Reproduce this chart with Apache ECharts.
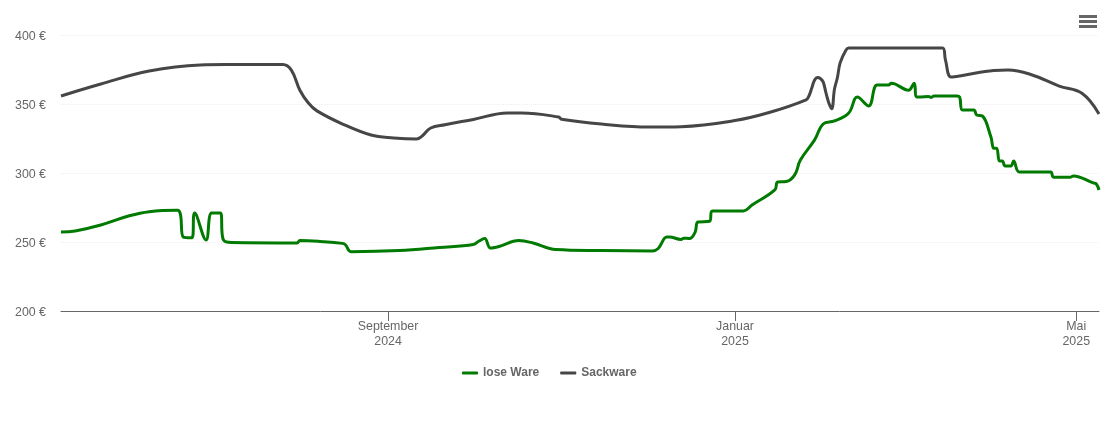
<!DOCTYPE html>
<html>
<head>
<meta charset="utf-8">
<title>Preisentwicklung</title>
<script src="https://cdn.jsdelivr.net/npm/echarts@6/dist/echarts.min.js"></script>
<style>
html, body { margin: 0; padding: 0; background: #fff; }
#mychart { width: 1110px; height: 422px; }
</style>
</head>
<body>
<div id="mychart"></div>
<script>
"use strict";
const loseDates = ['2024-05-09', '2024-05-14', '2024-05-23', '2024-06-02', '2024-06-09', '2024-06-19', '2024-06-20', '2024-06-21', '2024-06-24', '2024-06-25', '2024-06-29', '2024-07-01', '2024-07-04', '2024-07-05', '2024-07-08', '2024-07-31', '2024-08-01', '2024-08-08', '2024-08-16', '2024-08-17', '2024-08-19', '2024-09-05', '2024-09-19', '2024-10-01', '2024-10-03', '2024-10-05', '2024-10-07', '2024-10-10', '2024-10-17', '2024-10-22', '2024-10-30', '2024-11-15', '2024-12-03', '2024-12-05', '2024-12-08', '2024-12-09', '2024-12-13', '2024-12-14', '2024-12-16', '2024-12-18', '2024-12-19', '2024-12-23', '2024-12-24', '2025-01-04', '2025-01-07', '2025-01-15', '2025-01-16', '2025-01-19', '2025-01-22', '2025-01-24', '2025-01-29', '2025-02-01', '2025-02-05', '2025-02-10', '2025-02-13', '2025-02-17', '2025-02-20', '2025-02-24', '2025-02-25', '2025-03-03', '2025-03-05', '2025-03-06', '2025-03-10', '2025-03-11', '2025-03-12', '2025-03-20', '2025-03-21', '2025-03-22', '2025-03-26', '2025-03-27', '2025-03-29', '2025-04-01', '2025-04-02', '2025-04-03', '2025-04-04', '2025-04-05', '2025-04-06', '2025-04-08', '2025-04-09', '2025-04-11', '2025-04-22', '2025-04-23', '2025-04-29', '2025-04-30', '2025-05-07', '2025-05-08', '2025-05-09'];
const loseValues = [257.2, 258, 262.3, 269, 272, 273, 270, 253.6, 253, 271, 251.5, 271, 271, 252, 249.6, 249.3, 251, 250.4, 249, 248, 243, 243.8, 246, 248.2, 250.7, 252.5, 245.6, 246.7, 251, 249.3, 244.6, 243.8, 243.5, 245.3, 253.6, 253.6, 251.8, 252.8, 252.5, 257.2, 264.5, 265, 272.5, 272.5, 276.8, 287.7, 293.5, 293.8, 298.6, 309.4, 324, 335.5, 337.7, 343.5, 355, 348.6, 363.8, 363.8, 365, 360, 365, 355, 355.4, 354.8, 355.8, 355.8, 355, 345.6, 345.6, 342, 341.3, 326, 318, 318, 308.7, 308.7, 305, 305, 308.7, 300.7, 300.7, 297, 297, 297.8, 292.8, 292.2, 287.7];
const sackDates = ['2024-05-09', '2024-05-23', '2024-06-09', '2024-06-27', '2024-07-06', '2024-07-26', '2024-07-29', '2024-08-01', '2024-08-04', '2024-08-07', '2024-08-16', '2024-08-26', '2024-09-03', '2024-09-11', '2024-09-13', '2024-09-16', '2024-09-21', '2024-10-01', '2024-10-13', '2024-10-18', '2024-10-31', '2024-11-01', '2024-11-15', '2024-12-02', '2024-12-13', '2025-01-01', '2025-01-13', '2025-01-26', '2025-01-27', '2025-01-28', '2025-01-29', '2025-01-30', '2025-01-31', '2025-02-01', '2025-02-02', '2025-02-03', '2025-02-04', '2025-02-05', '2025-02-06', '2025-02-07', '2025-02-09', '2025-02-10', '2025-03-15', '2025-03-16', '2025-03-18', '2025-03-22', '2025-04-02', '2025-04-07', '2025-04-15', '2025-04-25', '2025-05-03', '2025-05-09'];
const sackValues = [355.8, 364.5, 373.9, 378.3, 378.6, 378.6, 374.6, 360, 350.7, 345, 335.5, 327.5, 325.4, 324.6, 326.8, 332.6, 335, 338.8, 343.5, 343.5, 340.6, 339, 335.5, 333.3, 333.6, 338, 343.8, 353, 355.8, 361.6, 367.4, 369.2, 368.5, 366, 358, 350.7, 346.5, 361, 369, 380, 389, 390.6, 390.6, 382, 369.5, 370.6, 374.3, 374.6, 371.4, 363, 357.8, 342.8];
const tickDates = ['2024-09-01', '2025-01-01', '2025-05-01'];
const monthNames = ['Januar', 'Februar', 'März', 'April', 'Mai', 'Juni', 'Juli', 'August', 'September', 'Oktober', 'November', 'Dezember'];
const seriesNames = ['lose Ware', 'Sackware'];

const toTime = d => new Date(d + 'T00:00:00').getTime();
const zip = (dates, values) => dates.map((d, i) => [toTime(d), values[i]]);

const container = document.getElementById('mychart');
const myChart = echarts.init(container);
const tickTimes = tickDates.map(toTime);
const fontFamily = '"Liberation Sans", Arial, sans-serif';
const option = {
    animation: false,
    textStyle: { fontFamily },
    grid: { left: 61, right: 11, top: 35, bottom: 111 },
    toolbox: {
        right: 13,
        top: 15,
        padding: 0,
        itemSize: 18,
        feature: {
            myMenu: {
                show: true,
                title: 'Menü',
                icon: 'path://M0 0H18V3H0Z M0 5H18V8H0Z M0 10H18V13H0Z',
                onclick: function () {}
            }
        },
        iconStyle: { color: '#666', borderColor: '#666', borderWidth: 0 }
    },
    legend: {
        top: 362,
        left: 457,
        icon: 'roundRect',
        itemWidth: 16,
        itemHeight: 3,
        itemGap: 21,
        textStyle: { color: '#666', fontSize: 12, fontWeight: 'bold', fontFamily },
        data: seriesNames
    },
    xAxis: {
        // value axis holding timestamps, so the three month ticks can be placed exactly
        type: 'value',
        min: toTime('2024-05-09'),
        max: toTime('2025-05-09'),
        axisLine: { lineStyle: { color: '#666', width: 1 } },
        axisTick: { show: true, length: 10, customValues: tickTimes, lineStyle: { color: '#666' } },
        axisLabel: {
            customValues: tickTimes,
            color: '#666',
            fontSize: 12.4,
            lineHeight: 15,
            margin: 8,
            hideOverlap: false,
            formatter: function (value) {
                const d = new Date(value);
                return monthNames[d.getMonth()] + '\n' + d.getFullYear();
            }
        },
        splitLine: { show: false }
    },
    yAxis: {
        type: 'value',
        min: 200,
        max: 400,
        interval: 50,
        axisLine: { show: false },
        axisTick: { show: false },
        // top aligned with a small line height: sits the text about 2px below the gridline centre
        axisLabel: { color: '#666', fontSize: 12.4, margin: 15, verticalAlign: 'top', lineHeight: 4, formatter: '{value} €' },
        splitLine: { lineStyle: { color: '#eee', type: 'dotted', width: 1 } }
    },
    series: [
        {
            name: seriesNames[0],
            type: 'line',
            data: zip(loseDates, loseValues),
            smooth: 0.4,
            showSymbol: false,
            symbol: 'none',
            lineStyle: { color: '#007a00', width: 3 },
            itemStyle: { color: '#007a00' }
        },
        {
            name: seriesNames[1],
            type: 'line',
            data: zip(sackDates, sackValues),
            smooth: 0.4,
            showSymbol: false,
            symbol: 'none',
            lineStyle: { color: '#464646', width: 3 },
            itemStyle: { color: '#464646' }
        }
    ]
};
myChart.setOption(option);
</script>
</body>
</html>
